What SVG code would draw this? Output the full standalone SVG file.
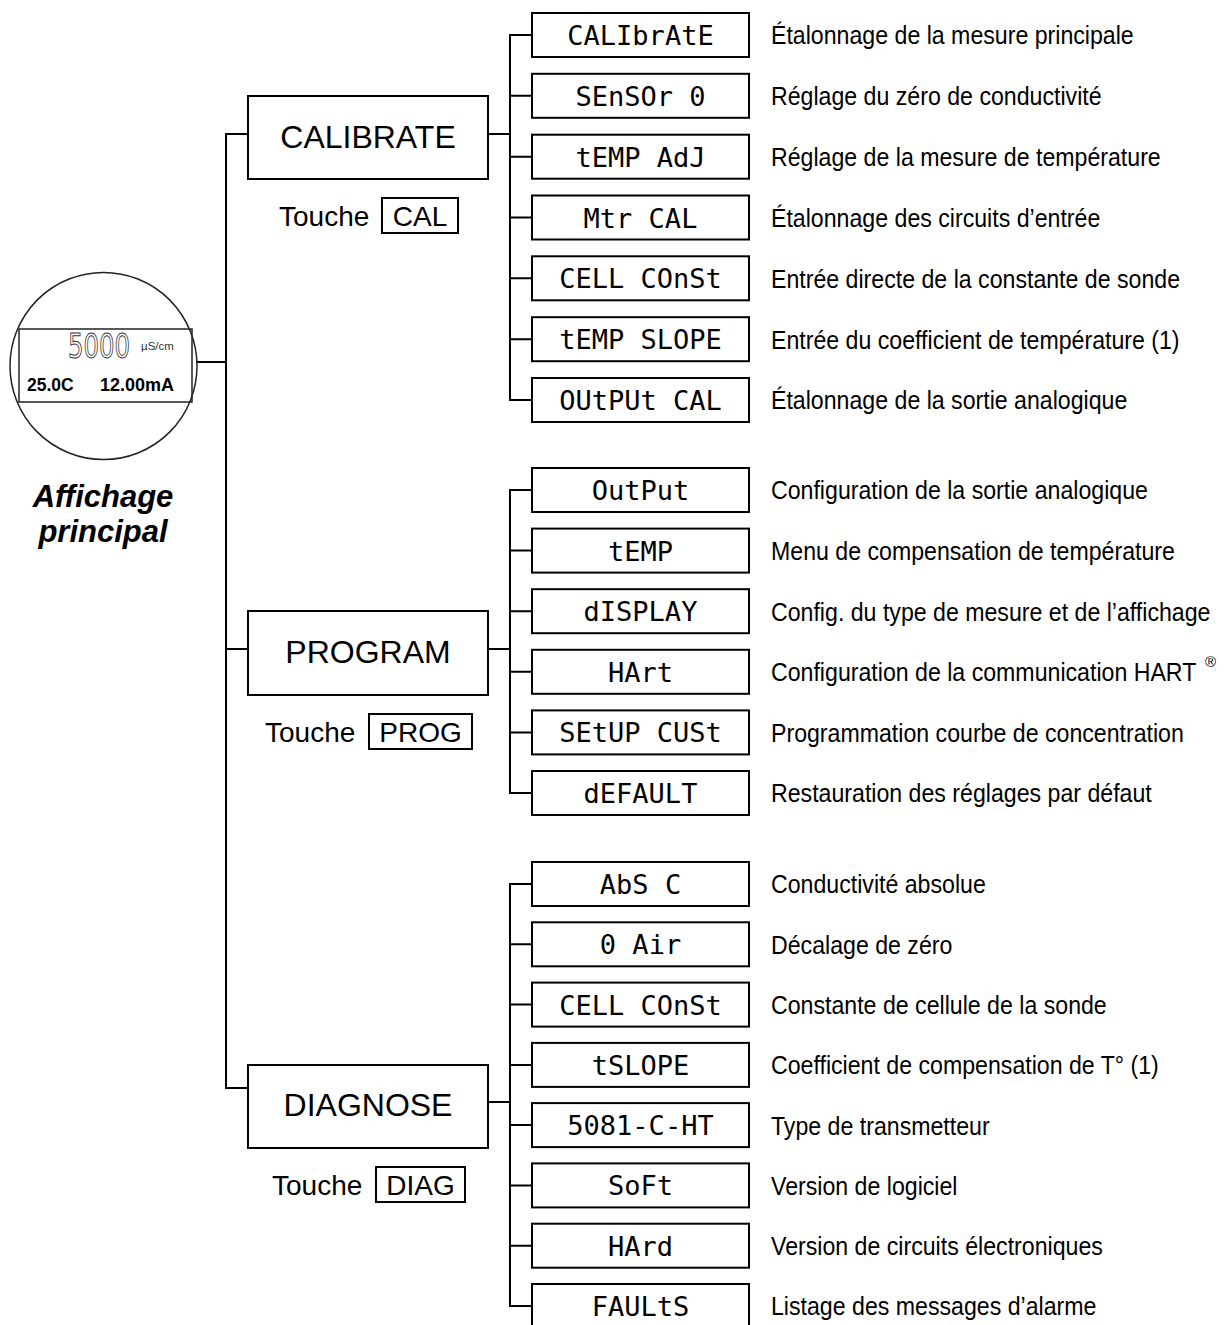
<svg xmlns="http://www.w3.org/2000/svg" width="1224" height="1325" viewBox="0 0 1224 1325">
<style>
.ln{stroke:#000;stroke-width:2;fill:none;stroke-linejoin:miter}
.bx{fill:#fff;stroke:#000;stroke-width:2}
.kb{fill:none;stroke:#000;stroke-width:2}
.lcd{font-family:"DejaVu Sans Mono","Liberation Mono",monospace;font-size:27px;text-anchor:middle;fill:#000}
.ds{font-family:"Liberation Sans",Arial,sans-serif;font-size:26px;fill:#000}
.mt{font-family:"Liberation Sans",Arial,sans-serif;font-size:32px;text-anchor:middle;fill:#000}
.tk{font-family:"Liberation Sans",Arial,sans-serif;font-size:28px;fill:#000}
.tkc{font-family:"Liberation Sans",Arial,sans-serif;font-size:28px;fill:#000;text-anchor:middle}
</style>
<rect width="1224" height="1325" fill="#fff"/>
<g id="connectors">
<path class="ln" d="M248 134 H226 V1088 H248"/>
<path class="ln" d="M226 649 H248"/>
<path class="ln" d="M197 362 H226"/>
<path class="ln" d="M488 134 H510"/>
<path class="ln" d="M488 649 H510"/>
<path class="ln" d="M488 1102 H510"/>
<path class="ln" d="M532 35 H510 V400 H532"/>
<path class="ln" d="M510 95.8 H532 M510 156.7 H532 M510 217.5 H532 M510 278.3 H532 M510 339.2 H532"/>
<path class="ln" d="M532 490 H510 V793 H532"/>
<path class="ln" d="M510 550.6 H532 M510 611.2 H532 M510 671.8 H532 M510 732.4 H532"/>
<path class="ln" d="M532 884 H510 V1306 H532"/>
<path class="ln" d="M510 944.3 H532 M510 1004.6 H532 M510 1064.9 H532 M510 1125.1 H532 M510 1185.4 H532 M510 1245.7 H532"/>
</g>
<g id="display">
<circle cx="103.5" cy="366" r="93.5" fill="#fff" stroke="#222" stroke-width="1.5"/>
<rect x="19" y="329" width="173" height="73" fill="none" stroke="#222" stroke-width="1.5"/>
<text transform="translate(68 358) scale(0.74 1)" x="0" y="0" font-family="DejaVu Sans,sans-serif" font-size="33" fill="#fff" stroke="#333" stroke-width="1">5000</text>
<text x="141" y="350" font-family="Liberation Sans,Arial,sans-serif" font-size="11.5" fill="#333">µS/cm</text>
<text x="27" y="391" font-family="Liberation Sans,Arial,sans-serif" font-size="17.5" font-weight="bold">25.0C</text>
<text x="100" y="391" font-family="Liberation Sans,Arial,sans-serif" font-size="18" font-weight="bold">12.00mA</text>
<text x="103" y="507" font-family="Liberation Sans,Arial,sans-serif" font-size="31" font-weight="bold" font-style="italic" text-anchor="middle">Affichage</text>
<text x="103" y="542" font-family="Liberation Sans,Arial,sans-serif" font-size="31" font-weight="bold" font-style="italic" text-anchor="middle">principal</text>
</g>
<g id="calibrate">
<rect class="bx" x="248" y="96" width="240" height="83"/>
<text class="mt" x="368" y="148">CALIBRATE</text>
<text class="tk" x="279" y="226">Touche</text>
<rect class="kb" x="382" y="198" width="76" height="35"/>
<text class="tkc" x="420" y="226">CAL</text>
</g>
<g id="program">
<rect class="bx" x="248" y="611" width="240" height="84"/>
<text class="mt" x="368" y="663">PROGRAM</text>
<text class="tk" x="265" y="742">Touche</text>
<rect class="kb" x="369" y="714" width="103" height="35"/>
<text class="tkc" x="420.5" y="742">PROG</text>
</g>
<g id="diagnose">
<rect class="bx" x="248" y="1065" width="240" height="83"/>
<text class="mt" x="368" y="1116">DIAGNOSE</text>
<text class="tk" x="272" y="1195">Touche</text>
<rect class="kb" x="376" y="1167" width="89" height="35"/>
<text class="tkc" x="420.5" y="1195">DIAG</text>
</g>
<g id="cal-items">
<g id="cal1"><rect class="bx" x="532" y="13" width="217" height="44"/><text class="lcd" x="640.5" y="45">CALIbrAtE</text></g>
<g id="cal2"><rect class="bx" x="532" y="73.8" width="217" height="44"/><text class="lcd" x="640.5" y="105.8">SEnSOr 0</text></g>
<g id="cal3"><rect class="bx" x="532" y="134.7" width="217" height="44"/><text class="lcd" x="640.5" y="166.7">tEMP AdJ</text></g>
<g id="cal4"><rect class="bx" x="532" y="195.5" width="217" height="44"/><text class="lcd" x="640.5" y="227.5">Mtr CAL</text></g>
<g id="cal5"><rect class="bx" x="532" y="256.3" width="217" height="44"/><text class="lcd" x="640.5" y="288.3">CELL COnSt</text></g>
<g id="cal6"><rect class="bx" x="532" y="317.2" width="217" height="44"/><text class="lcd" x="640.5" y="349.2">tEMP SLOPE</text></g>
<g id="cal7"><rect class="bx" x="532" y="378" width="217" height="44"/><text class="lcd" x="640.5" y="410">OUtPUt CAL</text></g>
</g>
<g id="prog-items">
<g id="prog1"><rect class="bx" x="532" y="468" width="217" height="44"/><text class="lcd" x="640.5" y="500">OutPut</text></g>
<g id="prog2"><rect class="bx" x="532" y="528.6" width="217" height="44"/><text class="lcd" x="640.5" y="560.6">tEMP</text></g>
<g id="prog3"><rect class="bx" x="532" y="589.2" width="217" height="44"/><text class="lcd" x="640.5" y="621.2">dISPLAY</text></g>
<g id="prog4"><rect class="bx" x="532" y="649.8" width="217" height="44"/><text class="lcd" x="640.5" y="681.8">HArt</text></g>
<g id="prog5"><rect class="bx" x="532" y="710.4" width="217" height="44"/><text class="lcd" x="640.5" y="742.4">SEtUP CUSt</text></g>
<g id="prog6"><rect class="bx" x="532" y="771" width="217" height="44"/><text class="lcd" x="640.5" y="803">dEFAULT</text></g>
</g>
<g id="diag-items">
<g id="diag1"><rect class="bx" x="532" y="862" width="217" height="44"/><text class="lcd" x="640.5" y="894">AbS C</text></g>
<g id="diag2"><rect class="bx" x="532" y="922.3" width="217" height="44"/><text class="lcd" x="640.5" y="954.3">0 Air</text></g>
<g id="diag3"><rect class="bx" x="532" y="982.6" width="217" height="44"/><text class="lcd" x="640.5" y="1014.6">CELL COnSt</text></g>
<g id="diag4"><rect class="bx" x="532" y="1042.9" width="217" height="44"/><text class="lcd" x="640.5" y="1074.9">tSLOPE</text></g>
<g id="diag5"><rect class="bx" x="532" y="1103.1" width="217" height="44"/><text class="lcd" x="640.5" y="1135.1">5081-C-HT</text></g>
<g id="diag6"><rect class="bx" x="532" y="1163.4" width="217" height="44"/><text class="lcd" x="640.5" y="1195.4">SoFt</text></g>
<g id="diag7"><rect class="bx" x="532" y="1223.7" width="217" height="44"/><text class="lcd" x="640.5" y="1255.7">HArd</text></g>
<g id="diag8"><rect class="bx" x="532" y="1284" width="217" height="44"/><text class="lcd" x="640.5" y="1316">FAULtS</text></g>
</g>
<g id="descriptions" transform="translate(771 0) scale(0.89 1)">
<text class="ds" x="0" y="44.5">Étalonnage de la mesure principale</text>
<text class="ds" x="0" y="105.3">Réglage du zéro de conductivité</text>
<text class="ds" x="0" y="166.2">Réglage de la mesure de température</text>
<text class="ds" x="0" y="227">Étalonnage des circuits d’entrée</text>
<text class="ds" x="0" y="287.8">Entrée directe de la constante de sonde</text>
<text class="ds" x="0" y="348.7">Entrée du coefficient de température (1)</text>
<text class="ds" x="0" y="409.5">Étalonnage de la sortie analogique</text>
<text class="ds" x="0" y="499.5">Configuration de la sortie analogique</text>
<text class="ds" x="0" y="560.1">Menu de compensation de température</text>
<text class="ds" x="0" y="620.7">Config. du type de mesure et de l’affichage</text>
<text class="ds" x="0" y="681.3">Configuration de la communication HART</text>
<text class="ds" x="0" y="741.9">Programmation courbe de concentration</text>
<text class="ds" x="0" y="802.5">Restauration des réglages par défaut</text>
<text class="ds" x="0" y="893.5">Conductivité absolue</text>
<text class="ds" x="0" y="953.8">Décalage de zéro</text>
<text class="ds" x="0" y="1014.1">Constante de cellule de la sonde</text>
<text class="ds" x="0" y="1074.4">Coefficient de compensation de T° (1)</text>
<text class="ds" x="0" y="1134.6">Type de transmetteur</text>
<text class="ds" x="0" y="1194.9">Version de logiciel</text>
<text class="ds" x="0" y="1255.2">Version de circuits électroniques</text>
<text class="ds" x="0" y="1315.5">Listage des messages d’alarme</text>
</g>
<text x="1205" y="667" font-family="Liberation Sans,Arial,sans-serif" font-size="15" fill="#000">®</text>
</svg>
